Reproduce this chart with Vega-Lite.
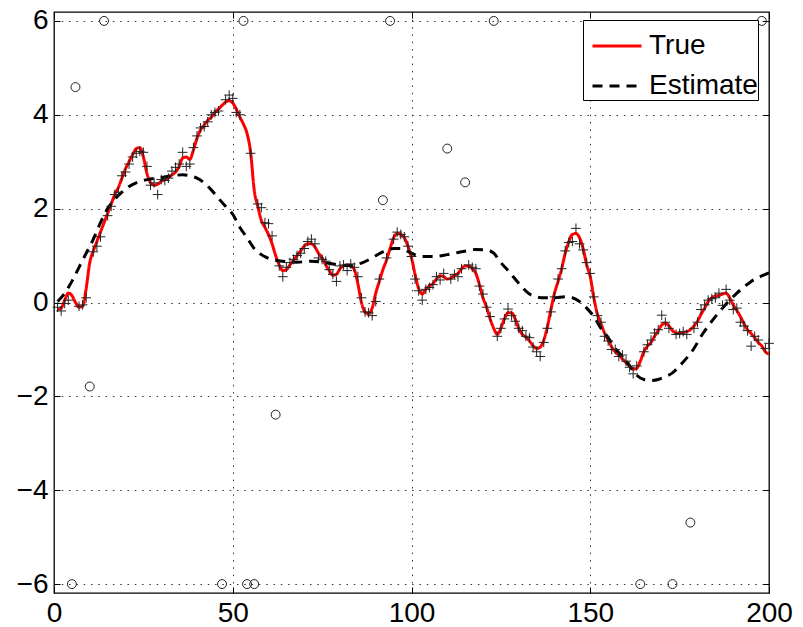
{
  "$schema": "https://vega.github.io/schema/vega-lite/v6.json",
  "autosize": {"type": "none"},
  "padding": {"left": 54, "top": 12, "right": 34, "bottom": 34},
  "width": 715,
  "height": 581,
  "background": "white",
  "config": {
    "view": {"stroke": "black", "strokeWidth": 1.3},
    "font": "Liberation Sans",
    "axis": {
      "labelFont": "Liberation Sans",
      "labelFontSize": 28,
      "labelColor": "black",
      "domain": false,
      "tickColor": "black",
      "tickSize": -6,
      "tickWidth": 1,
      "gridColor": "#333",
      "gridDash": [1.5, 5.8],
      "gridWidth": 1,
      "title": null
    },
    "legend": {
      "labelFont": "Liberation Sans",
      "labelFontSize": 28,
      "labelColor": "black",
      "rowPadding": -35
    }
  },
  "datasets": {
    "curves": [
      {"x":1,"y":-0.15,"s":"True"},{"x":2,"y":-0.12,"s":"True"},{"x":3,"y":0.05,"s":"True"},{"x":4,"y":0.2,"s":"True"},{"x":5,"y":0.15,"s":"True"},
      {"x":6,"y":0.0,"s":"True"},{"x":7,"y":-0.1,"s":"True"},{"x":8,"y":-0.08,"s":"True"},{"x":9,"y":0.3,"s":"True"},{"x":10,"y":0.85,"s":"True"},
      {"x":11,"y":1.1,"s":"True"},{"x":12,"y":1.3,"s":"True"},{"x":13,"y":1.5,"s":"True"},{"x":14,"y":1.7,"s":"True"},{"x":15,"y":1.9,"s":"True"},
      {"x":16,"y":2.1,"s":"True"},{"x":17,"y":2.3,"s":"True"},{"x":18,"y":2.45,"s":"True"},{"x":19,"y":2.65,"s":"True"},{"x":20,"y":2.85,"s":"True"},
      {"x":21,"y":3.0,"s":"True"},{"x":22,"y":3.15,"s":"True"},{"x":23,"y":3.28,"s":"True"},{"x":24,"y":3.3,"s":"True"},{"x":25,"y":3.1,"s":"True"},
      {"x":26,"y":2.75,"s":"True"},{"x":27,"y":2.55,"s":"True"},{"x":28,"y":2.5,"s":"True"},{"x":29,"y":2.52,"s":"True"},{"x":30,"y":2.58,"s":"True"},
      {"x":31,"y":2.62,"s":"True"},{"x":32,"y":2.66,"s":"True"},{"x":33,"y":2.72,"s":"True"},{"x":34,"y":2.78,"s":"True"},{"x":35,"y":2.9,"s":"True"},
      {"x":36,"y":3.08,"s":"True"},{"x":37,"y":3.1,"s":"True"},{"x":38,"y":3.05,"s":"True"},{"x":39,"y":3.25,"s":"True"},{"x":40,"y":3.5,"s":"True"},
      {"x":41,"y":3.68,"s":"True"},{"x":42,"y":3.78,"s":"True"},{"x":43,"y":3.88,"s":"True"},{"x":44,"y":3.95,"s":"True"},{"x":45,"y":4.05,"s":"True"},
      {"x":46,"y":4.12,"s":"True"},{"x":47,"y":4.2,"s":"True"},{"x":48,"y":4.27,"s":"True"},{"x":49,"y":4.3,"s":"True"},{"x":50,"y":4.25,"s":"True"},
      {"x":51,"y":4.12,"s":"True"},{"x":52,"y":3.95,"s":"True"},{"x":53,"y":3.8,"s":"True"},{"x":54,"y":3.6,"s":"True"},{"x":55,"y":3.2,"s":"True"},
      {"x":56,"y":2.4,"s":"True"},{"x":57,"y":2.05,"s":"True"},{"x":58,"y":1.75,"s":"True"},{"x":59,"y":1.6,"s":"True"},{"x":60,"y":1.45,"s":"True"},
      {"x":61,"y":1.25,"s":"True"},{"x":62,"y":1.0,"s":"True"},{"x":63,"y":0.8,"s":"True"},{"x":64,"y":0.68,"s":"True"},{"x":65,"y":0.7,"s":"True"},
      {"x":66,"y":0.8,"s":"True"},{"x":67,"y":0.9,"s":"True"},{"x":68,"y":1.0,"s":"True"},{"x":69,"y":1.1,"s":"True"},{"x":70,"y":1.2,"s":"True"},
      {"x":71,"y":1.25,"s":"True"},{"x":72,"y":1.25,"s":"True"},{"x":73,"y":1.18,"s":"True"},{"x":74,"y":1.05,"s":"True"},{"x":75,"y":0.95,"s":"True"},
      {"x":76,"y":0.8,"s":"True"},{"x":77,"y":0.68,"s":"True"},{"x":78,"y":0.58,"s":"True"},{"x":79,"y":0.6,"s":"True"},{"x":80,"y":0.72,"s":"True"},
      {"x":81,"y":0.78,"s":"True"},{"x":82,"y":0.8,"s":"True"},{"x":83,"y":0.78,"s":"True"},{"x":84,"y":0.7,"s":"True"},{"x":85,"y":0.4,"s":"True"},
      {"x":86,"y":0.0,"s":"True"},{"x":87,"y":-0.2,"s":"True"},{"x":88,"y":-0.24,"s":"True"},{"x":89,"y":-0.12,"s":"True"},{"x":90,"y":0.2,"s":"True"},
      {"x":91,"y":0.45,"s":"True"},{"x":92,"y":0.7,"s":"True"},{"x":93,"y":0.9,"s":"True"},{"x":94,"y":1.15,"s":"True"},{"x":95,"y":1.38,"s":"True"},
      {"x":96,"y":1.47,"s":"True"},{"x":97,"y":1.45,"s":"True"},{"x":98,"y":1.38,"s":"True"},{"x":99,"y":1.2,"s":"True"},{"x":100,"y":0.95,"s":"True"},
      {"x":101,"y":0.6,"s":"True"},{"x":102,"y":0.3,"s":"True"},{"x":103,"y":0.18,"s":"True"},{"x":104,"y":0.28,"s":"True"},{"x":105,"y":0.35,"s":"True"},
      {"x":106,"y":0.4,"s":"True"},{"x":107,"y":0.5,"s":"True"},{"x":108,"y":0.57,"s":"True"},{"x":109,"y":0.55,"s":"True"},{"x":110,"y":0.5,"s":"True"},
      {"x":111,"y":0.52,"s":"True"},{"x":112,"y":0.58,"s":"True"},{"x":113,"y":0.62,"s":"True"},{"x":114,"y":0.72,"s":"True"},{"x":115,"y":0.78,"s":"True"},
      {"x":116,"y":0.78,"s":"True"},{"x":117,"y":0.72,"s":"True"},{"x":118,"y":0.62,"s":"True"},{"x":119,"y":0.38,"s":"True"},{"x":120,"y":0.1,"s":"True"},
      {"x":121,"y":-0.1,"s":"True"},{"x":122,"y":-0.35,"s":"True"},{"x":123,"y":-0.55,"s":"True"},{"x":124,"y":-0.68,"s":"True"},{"x":125,"y":-0.55,"s":"True"},
      {"x":126,"y":-0.35,"s":"True"},{"x":127,"y":-0.22,"s":"True"},{"x":128,"y":-0.22,"s":"True"},{"x":129,"y":-0.35,"s":"True"},{"x":130,"y":-0.55,"s":"True"},
      {"x":131,"y":-0.68,"s":"True"},{"x":132,"y":-0.74,"s":"True"},{"x":133,"y":-0.82,"s":"True"},{"x":134,"y":-0.92,"s":"True"},{"x":135,"y":-0.98,"s":"True"},
      {"x":136,"y":-0.95,"s":"True"},{"x":137,"y":-0.8,"s":"True"},{"x":138,"y":-0.52,"s":"True"},{"x":139,"y":-0.15,"s":"True"},{"x":140,"y":0.2,"s":"True"},
      {"x":141,"y":0.45,"s":"True"},{"x":142,"y":0.72,"s":"True"},{"x":143,"y":1.05,"s":"True"},{"x":144,"y":1.3,"s":"True"},{"x":145,"y":1.45,"s":"True"},
      {"x":146,"y":1.47,"s":"True"},{"x":147,"y":1.38,"s":"True"},{"x":148,"y":1.15,"s":"True"},{"x":149,"y":0.8,"s":"True"},{"x":150,"y":0.55,"s":"True"},
      {"x":151,"y":0.1,"s":"True"},{"x":152,"y":-0.25,"s":"True"},{"x":153,"y":-0.45,"s":"True"},{"x":154,"y":-0.65,"s":"True"},{"x":155,"y":-0.8,"s":"True"},
      {"x":156,"y":-0.95,"s":"True"},{"x":157,"y":-1.05,"s":"True"},{"x":158,"y":-1.12,"s":"True"},{"x":159,"y":-1.2,"s":"True"},{"x":160,"y":-1.28,"s":"True"},
      {"x":161,"y":-1.35,"s":"True"},{"x":162,"y":-1.42,"s":"True"},{"x":163,"y":-1.4,"s":"True"},{"x":164,"y":-1.25,"s":"True"},{"x":165,"y":-1.05,"s":"True"},
      {"x":166,"y":-0.93,"s":"True"},{"x":167,"y":-0.85,"s":"True"},{"x":168,"y":-0.72,"s":"True"},{"x":169,"y":-0.6,"s":"True"},{"x":170,"y":-0.48,"s":"True"},
      {"x":171,"y":-0.44,"s":"True"},{"x":172,"y":-0.5,"s":"True"},{"x":173,"y":-0.6,"s":"True"},{"x":174,"y":-0.65,"s":"True"},{"x":175,"y":-0.66,"s":"True"},
      {"x":176,"y":-0.64,"s":"True"},{"x":177,"y":-0.62,"s":"True"},{"x":178,"y":-0.58,"s":"True"},{"x":179,"y":-0.5,"s":"True"},{"x":180,"y":-0.4,"s":"True"},
      {"x":181,"y":-0.25,"s":"True"},{"x":182,"y":-0.12,"s":"True"},{"x":183,"y":0.02,"s":"True"},{"x":184,"y":0.1,"s":"True"},{"x":185,"y":0.14,"s":"True"},
      {"x":186,"y":0.15,"s":"True"},{"x":187,"y":0.18,"s":"True"},{"x":188,"y":0.2,"s":"True"},{"x":189,"y":0.1,"s":"True"},{"x":190,"y":-0.05,"s":"True"},
      {"x":191,"y":-0.17,"s":"True"},{"x":192,"y":-0.3,"s":"True"},{"x":193,"y":-0.45,"s":"True"},{"x":194,"y":-0.58,"s":"True"},{"x":195,"y":-0.66,"s":"True"},
      {"x":196,"y":-0.75,"s":"True"},{"x":197,"y":-0.85,"s":"True"},{"x":198,"y":-0.93,"s":"True"},{"x":199,"y":-1.05,"s":"True"},{"x":200,"y":-1.1,"s":"True"},
      {"x":1,"y":0.02,"s":"Estimate"},{"x":3,"y":0.2,"s":"Estimate"},{"x":5,"y":0.45,"s":"Estimate"},{"x":7,"y":0.75,"s":"Estimate"},
      {"x":9,"y":1.05,"s":"Estimate"},{"x":11,"y":1.35,"s":"Estimate"},{"x":13,"y":1.7,"s":"Estimate"},{"x":15,"y":2.0,"s":"Estimate"},
      {"x":17,"y":2.2,"s":"Estimate"},{"x":19,"y":2.35,"s":"Estimate"},{"x":21,"y":2.47,"s":"Estimate"},{"x":24,"y":2.58,"s":"Estimate"},
      {"x":27,"y":2.63,"s":"Estimate"},{"x":30,"y":2.66,"s":"Estimate"},{"x":33,"y":2.7,"s":"Estimate"},{"x":36,"y":2.72,"s":"Estimate"},
      {"x":38,"y":2.7,"s":"Estimate"},{"x":40,"y":2.65,"s":"Estimate"},{"x":42,"y":2.55,"s":"Estimate"},{"x":44,"y":2.4,"s":"Estimate"},
      {"x":46,"y":2.22,"s":"Estimate"},{"x":48,"y":2.05,"s":"Estimate"},{"x":50,"y":1.88,"s":"Estimate"},{"x":52,"y":1.6,"s":"Estimate"},
      {"x":54,"y":1.38,"s":"Estimate"},{"x":56,"y":1.15,"s":"Estimate"},{"x":58,"y":1.02,"s":"Estimate"},{"x":60,"y":0.94,"s":"Estimate"},
      {"x":62,"y":0.9,"s":"Estimate"},{"x":65,"y":0.87,"s":"Estimate"},{"x":68,"y":0.86,"s":"Estimate"},{"x":72,"y":0.88,"s":"Estimate"},
      {"x":76,"y":0.85,"s":"Estimate"},{"x":80,"y":0.8,"s":"Estimate"},{"x":83,"y":0.79,"s":"Estimate"},{"x":86,"y":0.84,"s":"Estimate"},
      {"x":89,"y":0.95,"s":"Estimate"},{"x":92,"y":1.08,"s":"Estimate"},{"x":95,"y":1.15,"s":"Estimate"},{"x":97,"y":1.15,"s":"Estimate"},
      {"x":100,"y":1.05,"s":"Estimate"},{"x":103,"y":0.98,"s":"Estimate"},{"x":106,"y":0.98,"s":"Estimate"},{"x":110,"y":1.02,"s":"Estimate"},
      {"x":114,"y":1.08,"s":"Estimate"},{"x":118,"y":1.13,"s":"Estimate"},{"x":121,"y":1.12,"s":"Estimate"},{"x":123,"y":1.05,"s":"Estimate"},
      {"x":125,"y":0.85,"s":"Estimate"},{"x":127,"y":0.68,"s":"Estimate"},{"x":129,"y":0.5,"s":"Estimate"},{"x":131,"y":0.32,"s":"Estimate"},
      {"x":133,"y":0.18,"s":"Estimate"},{"x":135,"y":0.12,"s":"Estimate"},{"x":137,"y":0.1,"s":"Estimate"},{"x":140,"y":0.1,"s":"Estimate"},
      {"x":143,"y":0.12,"s":"Estimate"},{"x":145,"y":0.1,"s":"Estimate"},{"x":147,"y":0.02,"s":"Estimate"},{"x":149,"y":-0.12,"s":"Estimate"},
      {"x":151,"y":-0.3,"s":"Estimate"},{"x":153,"y":-0.55,"s":"Estimate"},{"x":155,"y":-0.75,"s":"Estimate"},{"x":157,"y":-0.98,"s":"Estimate"},
      {"x":159,"y":-1.15,"s":"Estimate"},{"x":161,"y":-1.35,"s":"Estimate"},{"x":163,"y":-1.55,"s":"Estimate"},{"x":165,"y":-1.64,"s":"Estimate"},
      {"x":167,"y":-1.66,"s":"Estimate"},{"x":169,"y":-1.64,"s":"Estimate"},{"x":171,"y":-1.58,"s":"Estimate"},{"x":173,"y":-1.5,"s":"Estimate"},
      {"x":175,"y":-1.35,"s":"Estimate"},{"x":177,"y":-1.18,"s":"Estimate"},{"x":179,"y":-0.98,"s":"Estimate"},{"x":181,"y":-0.72,"s":"Estimate"},
      {"x":183,"y":-0.5,"s":"Estimate"},{"x":185,"y":-0.3,"s":"Estimate"},{"x":187,"y":-0.12,"s":"Estimate"},{"x":189,"y":0.05,"s":"Estimate"},
      {"x":191,"y":0.2,"s":"Estimate"},{"x":193,"y":0.33,"s":"Estimate"},{"x":195,"y":0.45,"s":"Estimate"},{"x":197,"y":0.53,"s":"Estimate"},
      {"x":199,"y":0.6,"s":"Estimate"},{"x":200,"y":0.63,"s":"Estimate"}
    ],
    "obs": [
      {"x":1,"y":-0.1},{"x":2,"y":-0.18},{"x":3,"y":-0.02},{"x":4,"y":0.05},{"x":7,"y":-0.08},{"x":8,"y":-0.05},{"x":9,"y":0.1},
      {"x":11,"y":1.08},{"x":12,"y":1.2},{"x":13,"y":1.4},{"x":15,"y":1.85},{"x":16,"y":2.05},{"x":17,"y":2.3},{"x":18,"y":2.35},
      {"x":19,"y":2.7},{"x":20,"y":2.78},{"x":21,"y":2.95},{"x":22,"y":3.1},{"x":23,"y":3.18},{"x":24,"y":3.22},{"x":25,"y":3.2},
      {"x":26,"y":2.9},{"x":27,"y":2.5},{"x":28,"y":2.55},{"x":29,"y":2.3},{"x":30,"y":2.62},{"x":31,"y":2.6},{"x":32,"y":2.65},
      {"x":33,"y":2.8},{"x":34,"y":2.88},{"x":35,"y":2.95},{"x":36,"y":3.2},{"x":37,"y":2.9},{"x":38,"y":2.95},{"x":39,"y":3.3},
      {"x":40,"y":3.55},{"x":41,"y":3.72},{"x":42,"y":3.75},{"x":43,"y":3.85},{"x":44,"y":4.0},{"x":45,"y":4.05},{"x":46,"y":4.08},
      {"x":48,"y":4.32},{"x":49,"y":4.42},{"x":50,"y":4.35},{"x":51,"y":4.05},{"x":52,"y":4.0},{"x":55,"y":3.18},{"x":57,"y":2.1},
      {"x":58,"y":2.02},{"x":59,"y":1.7},{"x":60,"y":1.68},{"x":61,"y":1.42},{"x":63,"y":0.78},{"x":64,"y":0.55},{"x":65,"y":0.75},
      {"x":66,"y":0.85},{"x":67,"y":0.92},{"x":68,"y":1.0},{"x":69,"y":1.05},{"x":70,"y":1.15},{"x":71,"y":1.3},{"x":72,"y":1.35},
      {"x":73,"y":1.25},{"x":74,"y":0.95},{"x":75,"y":0.92},{"x":76,"y":0.88},{"x":77,"y":0.7},{"x":78,"y":0.6},{"x":79,"y":0.45},
      {"x":80,"y":0.78},{"x":81,"y":0.8},{"x":82,"y":0.68},{"x":83,"y":0.82},{"x":84,"y":0.75},{"x":85,"y":0.55},{"x":86,"y":0.1},
      {"x":87,"y":-0.2},{"x":88,"y":-0.22},{"x":89,"y":-0.28},{"x":90,"y":0.02},{"x":91,"y":0.5},{"x":93,"y":0.95},{"x":95,"y":1.35},
      {"x":96,"y":1.5},{"x":97,"y":1.45},{"x":98,"y":1.4},{"x":99,"y":1.2},{"x":100,"y":0.98},{"x":101,"y":0.5},{"x":102,"y":0.25},
      {"x":103,"y":0.05},{"x":104,"y":0.28},{"x":105,"y":0.32},{"x":106,"y":0.38},{"x":107,"y":0.55},{"x":108,"y":0.48},{"x":109,"y":0.62},
      {"x":111,"y":0.5},{"x":112,"y":0.6},{"x":113,"y":0.55},{"x":114,"y":0.72},{"x":116,"y":0.8},{"x":117,"y":0.75},{"x":118,"y":0.72},
      {"x":119,"y":0.35},{"x":120,"y":0.18},{"x":121,"y":-0.1},{"x":122,"y":-0.3},{"x":124,"y":-0.72},{"x":125,"y":-0.55},{"x":126,"y":-0.35},
      {"x":127,"y":-0.14},{"x":128,"y":-0.28},{"x":129,"y":-0.4},{"x":130,"y":-0.55},{"x":131,"y":-0.6},{"x":132,"y":-0.72},{"x":133,"y":-0.75},
      {"x":134,"y":-0.95},{"x":135,"y":-1.05},{"x":136,"y":-1.15},{"x":137,"y":-0.85},{"x":138,"y":-0.55},{"x":139,"y":-0.2},{"x":140,"y":0.12},
      {"x":141,"y":0.5},{"x":142,"y":0.72},{"x":143,"y":1.1},{"x":144,"y":1.28},{"x":145,"y":1.3},{"x":146,"y":1.58},{"x":147,"y":1.25},
      {"x":148,"y":1.12},{"x":149,"y":0.85},{"x":150,"y":0.62},{"x":151,"y":0.12},{"x":152,"y":-0.28},{"x":153,"y":-0.42},{"x":154,"y":-0.72},
      {"x":155,"y":-0.82},{"x":156,"y":-1.0},{"x":157,"y":-1.0},{"x":158,"y":-1.15},{"x":159,"y":-1.12},{"x":160,"y":-1.25},{"x":161,"y":-1.38},
      {"x":162,"y":-1.52},{"x":163,"y":-1.35},{"x":165,"y":-1.05},{"x":166,"y":-0.9},{"x":167,"y":-0.8},{"x":168,"y":-0.65},{"x":169,"y":-0.58},
      {"x":170,"y":-0.27},{"x":171,"y":-0.42},{"x":172,"y":-0.55},{"x":174,"y":-0.68},{"x":175,"y":-0.66},{"x":176,"y":-0.62},{"x":177,"y":-0.68},
      {"x":179,"y":-0.55},{"x":180,"y":-0.42},{"x":181,"y":-0.15},{"x":182,"y":-0.05},{"x":183,"y":0.05},{"x":184,"y":0.08},{"x":185,"y":0.1},
      {"x":186,"y":0.2},{"x":187,"y":-0.06},{"x":188,"y":0.28},{"x":189,"y":0.05},{"x":190,"y":-0.15},{"x":191,"y":-0.12},{"x":192,"y":-0.42},
      {"x":193,"y":-0.5},{"x":194,"y":-0.6},{"x":195,"y":-0.93},{"x":196,"y":-0.72},{"x":197,"y":-0.8},{"x":199,"y":-0.98},{"x":200,"y":-0.87}
    ],
    "outliers": [
      {"x":5,"y":-6},{"x":6,"y":4.59},{"x":10,"y":-1.79},{"x":14,"y":6},{"x":47,"y":-6},{"x":53,"y":6},{"x":54,"y":-6},
      {"x":56,"y":-6},{"x":62,"y":-2.39},{"x":92,"y":2.18},{"x":94,"y":6},{"x":110,"y":3.28},{"x":115,"y":2.56},{"x":123,"y":6},
      {"x":164,"y":-6},{"x":173,"y":-6},{"x":178,"y":-4.69},{"x":198,"y":6}
    ]
  },
  "resolve": {"axis": {"x": "independent", "y": "independent"}},
  "layer": [
    {
      "data": {"name": "curves"},
      "mark": {"type": "line", "interpolate": "monotone", "strokeWidth": 3, "clip": true},
      "encoding": {
        "x": {"field": "x", "type": "quantitative",
              "scale": {"domain": [0, 200], "nice": false},
              "axis": {"values": [0, 50, 100, 150, 200], "grid": true, "labelPadding": 12, "labelFlush": false}},
        "y": {"field": "y", "type": "quantitative",
              "scale": {"domain": [-6.19, 6.19], "nice": false, "zero": false},
              "axis": {"values": [-6, -4, -2, 0, 2, 4, 6], "grid": true, "labelPadding": 12, "labelFlush": false}},
        "color": {"field": "s", "type": "nominal",
                  "scale": {"domain": ["True", "Estimate"], "range": ["#ff0000", "#000000"]},
                  "legend": {"title": " ", "titleOrient": "right", "titlePadding": 0, "titleFontSize": 28,
                             "orient": "none", "legendX": 529, "legendY": 8,
                             "direction": "vertical", "strokeColor": "black", "fillColor": "white",
                             "padding": 0, "labelOffset": 6, "symbolOffset": 8,
                             "symbolType": "stroke", "symbolSize": 2401, "symbolStrokeWidth": 3}},
        "strokeDash": {"field": "s", "type": "nominal",
                       "scale": {"domain": ["True", "Estimate"], "range": [[1, 0], [10, 7]]},
                       "legend": {"title": " ", "titleOrient": "right", "titlePadding": 0, "titleFontSize": 28,
                                  "orient": "none", "legendX": 529, "legendY": 8,
                                  "direction": "vertical", "strokeColor": "black", "fillColor": "white",
                                  "padding": 0, "labelOffset": 6, "symbolOffset": 8,
                                  "symbolType": "stroke", "symbolSize": 2401, "symbolStrokeWidth": 3}}
      }
    },
    {
      "data": {"name": "obs"},
      "mark": {"type": "point", "shape": "M-1,0H1M0,-1V1", "filled": false, "stroke": "#222", "strokeWidth": 1, "size": 95, "opacity": 1},
      "encoding": {
        "x": {"field": "x", "type": "quantitative", "scale": {"domain": [0, 200], "nice": false}, "axis": null},
        "y": {"field": "y", "type": "quantitative", "scale": {"domain": [-6.19, 6.19], "nice": false, "zero": false}, "axis": null}
      }
    },
    {
      "data": {"name": "outliers"},
      "mark": {"type": "point", "shape": "circle", "filled": false, "stroke": "#222", "strokeWidth": 1, "size": 80, "opacity": 1},
      "encoding": {
        "x": {"field": "x", "type": "quantitative", "scale": {"domain": [0, 200], "nice": false},
              "axis": {"orient": "top", "values": [0, 50, 100, 150, 200], "labels": false, "grid": false}},
        "y": {"field": "y", "type": "quantitative", "scale": {"domain": [-6.19, 6.19], "nice": false, "zero": false},
              "axis": {"orient": "right", "values": [-6, -4, -2, 0, 2, 4, 6], "labels": false, "grid": false}}
      }
    }
  ]
}
